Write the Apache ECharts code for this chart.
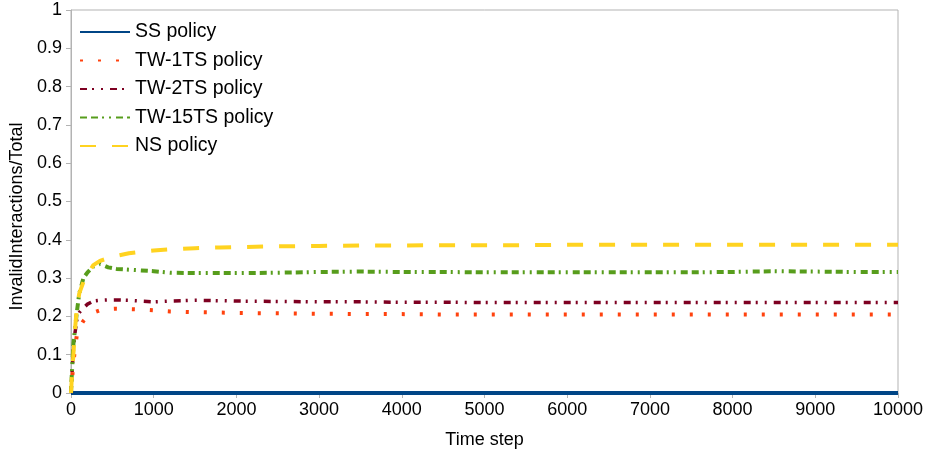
<!DOCTYPE html>
<html><head><meta charset="utf-8">
<script src="https://cdn.jsdelivr.net/npm/echarts@6/dist/echarts.min.js"></script>
<style>html,body{margin:0;padding:0;background:#fff}#c{width:931px;height:460px}</style>
</head><body><div id="c"></div>
<script>
const steps = [0, 10, 30, 50, 70, 100, 150, 200, 270, 350, 450, 550, 700, 850, 1000, 1200, 1500, 1800, 2000, 2500, 3000, 3500, 4000, 4500, 5000, 5500, 6000, 6500, 7000, 7500, 8000, 8500, 9000, 9500, 10000];
const ssPolicy = steps.map(() => 0);
const tw1Policy = [0, 0.03, 0.08, 0.12, 0.15, 0.17, 0.188, 0.2, 0.21, 0.216, 0.219, 0.22, 0.219, 0.218, 0.216, 0.213, 0.211, 0.21, 0.209, 0.208, 0.207, 0.206, 0.206, 0.205, 0.205, 0.205, 0.205, 0.205, 0.205, 0.205, 0.205, 0.205, 0.205, 0.205, 0.205];
const tw2Policy = [0, 0.04, 0.12, 0.16, 0.19, 0.21, 0.222, 0.232, 0.24, 0.242, 0.243, 0.243, 0.242, 0.24, 0.238, 0.24, 0.242, 0.241, 0.24, 0.239, 0.238, 0.238, 0.237, 0.237, 0.236, 0.236, 0.236, 0.236, 0.236, 0.236, 0.236, 0.236, 0.236, 0.236, 0.236];
const tw15Policy = [0, 0.05, 0.13, 0.17, 0.21, 0.26, 0.3, 0.315, 0.33, 0.337, 0.328, 0.324, 0.322, 0.32, 0.318, 0.314, 0.313, 0.313, 0.313, 0.314, 0.316, 0.317, 0.316, 0.316, 0.315, 0.315, 0.315, 0.315, 0.315, 0.315, 0.316, 0.318, 0.317, 0.316, 0.316];
const nsPolicy = [0, 0.04, 0.105, 0.17, 0.22, 0.26, 0.29, 0.31, 0.334, 0.345, 0.352, 0.358, 0.365, 0.369, 0.372, 0.375, 0.378, 0.38, 0.381, 0.383, 0.384, 0.385, 0.385, 0.386, 0.386, 0.386, 0.387, 0.387, 0.387, 0.387, 0.387, 0.387, 0.387, 0.387, 0.387];
const seriesNames = ['SS policy', 'TW-1TS policy', 'TW-2TS policy', 'TW-15TS policy', 'NS policy'];

const pair = arr => steps.map((s, i) => [s, arr[i]]);
const FONT = '"Liberation Sans", Arial, sans-serif';
const chart = echarts.init(document.getElementById('c'), null, {renderer: 'canvas'});
function mk(name, arr, color, width, type) {
  return {name, type: 'line', data: pair(arr), symbol: 'none', animation: false,
    lineStyle: {color, width, type, cap: 'butt'}, itemStyle: {color}};
}
chart.setOption({
  animation: false,
  grid: {left: 71, right: 33, top: 10, bottom: 67, show: true, borderColor: '#b3b3b3', borderWidth: 1},
  legend: {
    orient: 'vertical', left: 74, top: 17, itemWidth: 50, itemHeight: 16, itemGap: 8.5,
    itemStyle: {opacity: 0},
    lineStyle: {width: 2},
    textStyle: {fontFamily: FONT, fontSize: 19.5, color: '#000'},
    data: seriesNames
  },
  xAxis: {
    type: 'value', min: 0, max: 10000, interval: 1000,
    name: 'Time step', nameLocation: 'middle', nameGap: 38,
    nameTextStyle: {fontFamily: FONT, fontSize: 18, color: '#000'},
    axisLine: {lineStyle: {color: '#b3b3b3'}},
    axisTick: {show: true, length: 5, lineStyle: {color: '#b3b3b3'}},
    axisLabel: {fontFamily: FONT, fontSize: 18, color: '#000', margin: 8, formatter: v => String(v)},
    splitLine: {show: false}
  },
  yAxis: {
    type: 'value', min: 0, max: 1, interval: 0.1,
    name: 'InvalidInteractions/Total', nameLocation: 'middle', nameGap: 44,
    nameTextStyle: {fontFamily: FONT, fontSize: 18, color: '#000', padding: [0, 30, 0, 0]},
    axisLine: {show: true, lineStyle: {color: '#b3b3b3'}},
    axisTick: {show: true, length: 5, lineStyle: {color: '#b3b3b3'}},
    axisLabel: {fontFamily: FONT, fontSize: 18, color: '#000', margin: 9},
    splitLine: {show: false}
  },
  series: [
    mk(seriesNames[0], ssPolicy, '#004586', 4, 'solid'),
    mk(seriesNames[1], tw1Policy, '#ff420e', 4, [3, 15]),
    mk(seriesNames[2], tw2Policy, '#7e0021', 3.5, [7, 5, 2, 7, 2, 7]),
    mk(seriesNames[3], tw15Policy, '#579d1c', 4, [7, 4, 7, 4, 2, 5, 2, 5]),
    mk(seriesNames[4], nsPolicy, '#ffd320', 4, [16, 16])
  ]
});
</script></body></html>
